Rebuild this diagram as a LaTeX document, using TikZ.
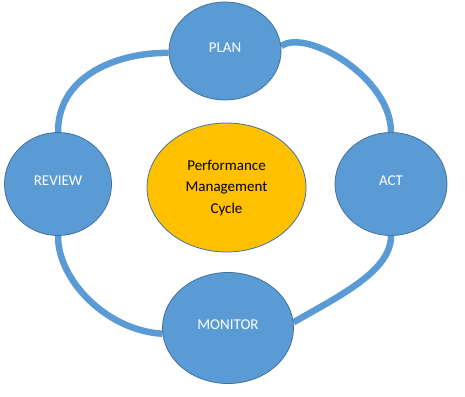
\documentclass[tikz,border=0pt]{standalone}
\usepackage{fontspec}
\setmainfont{Carlito}
\usetikzlibrary{shapes.geometric,backgrounds}
\definecolor{nodeblue}{HTML}{5B9BD5}
\definecolor{edgeblue}{HTML}{41719C}
\definecolor{gold}{HTML}{FFC000}
\begin{document}
\begin{tikzpicture}[x=1pt,y=-1pt,
  phase/.style={ellipse, draw=edgeblue, fill=nodeblue, line width=0.8pt, text=white,
    font=\fontsize{15}{18}\selectfont, inner sep=0pt},
  hub/.style={ellipse, draw=edgeblue, fill=gold, line width=0.8pt, text=black,
    font=\fontsize{15}{21.5}\selectfont, align=center, inner sep=0pt},
  link/.style={draw=nodeblue, line width=6.5pt}]
\useasboundingbox (0,0) rectangle (465,396);
\node[phase, minimum width=112, minimum height=98] (plan) at (225,51) {\raisebox{6pt}{PLAN}};
\node[phase, minimum width=107, minimum height=103] (review) at (58,184) {\raisebox{6pt}{REVIEW}};
\node[phase, minimum width=112, minimum height=103] (act) at (391,184) {\raisebox{6pt}{ACT}};
\node[phase, minimum width=131, minimum height=111] (monitor) at (228,328) {\raisebox{6pt}{MONITOR}};
\node[hub, minimum width=159, minimum height=129] (hub) at (226.5,187.5) {\raisebox{5pt}{\begin{tabular}{@{}c@{}}Performance\\Management\\Cycle\end{tabular}}};
\begin{scope}[on background layer]
\draw[link] (plan.182) .. controls +(-45,-1) and +(0,-60) .. (review.north);
\draw[link] (plan.5) .. controls +(25,-18) and +(0,-55) .. (act.north);
\draw[link] (review.south) .. controls +(0,45) and +(-55,-3) .. (monitor.185);
\draw[link] (act.south) .. controls +(0,35) and +(47,-27) .. (monitor.5);
\end{scope}
\end{tikzpicture}
\end{document}
